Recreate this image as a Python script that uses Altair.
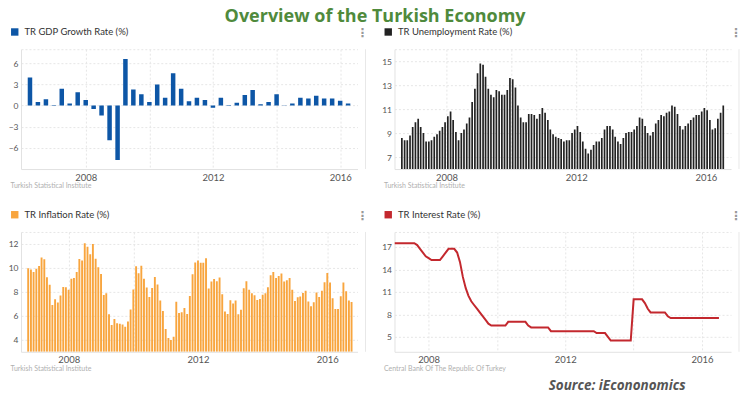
import altair as alt
import pandas as pd

TITLE = "Overview of the Turkish Economy"
SOURCE = "Source: iEcononomics"

# ---- GDP growth, quarterly (Q2 2006 .. Q2 2016)
gdp_name = "TR GDP Growth Rate (%)"
gdp_source = "Turkish Statistical Institute"
gdp_values = [4.0, 0.5, 0.9, 0.1, 2.4, 0.3, 1.9, 0.8, -0.5, -1.4,
              -4.9, -7.7, 6.6, 2.3, 1.6, 0.5, 3.0, 1.1, 4.6, 2.4,
              0.6, 1.1, 0.8, -0.3, 1.1, 0.1, 0.4, 1.5, 2.2, 0.2,
              0.5, 1.6, 0.05, 0.3, 1.1, 1.0, 1.4, 1.0, 1.0, 0.7,
              0.3]
gdp_ticks = [-6, -3, 0, 3, 6]

# ---- Unemployment, monthly (Aug 2006 .. Jul 2016)
unemp_name = "TR Unemployment Rate (%)"
unemp_source = "Turkish Statistical Institute"
unemp_values = [8.6, 8.4, 8.4, 8.8, 9.5, 9.9, 10.2, 9.5, 9.0, 8.3,
                8.3, 8.4, 8.7, 8.9, 9.2, 9.5, 9.9, 10.4, 10.8, 10.1,
                9.1, 8.4, 9.0, 9.3, 9.8, 10.3, 11.6, 12.7, 14.0, 14.8,
                14.7, 13.7, 12.7, 12.2, 12.0, 12.6, 12.5, 12.2, 12.2, 12.6,
                13.6, 13.5, 12.8, 11.3, 10.3, 9.9, 9.9, 10.6, 10.6, 10.5,
                10.2, 10.6, 11.1, 10.7, 10.1, 9.3, 8.9, 8.7, 8.6, 8.5,
                8.3, 8.4, 8.4, 9.0, 9.3, 9.6, 9.1, 8.3, 7.7, 7.3,
                7.6, 8.0, 8.3, 8.3, 8.6, 9.3, 9.6, 9.6, 9.3, 8.7,
                8.3, 8.1, 8.6, 9.0, 9.1, 9.1, 9.3, 9.6, 10.3, 10.2,
                9.6, 9.0, 8.8, 9.1, 9.8, 10.1, 10.5, 10.4, 10.7, 10.8,
                11.3, 11.2, 10.6, 9.6, 9.3, 9.6, 9.8, 10.1, 10.3, 10.5,
                10.5, 10.8, 11.1, 10.9, 10.1, 9.3, 9.4, 10.2, 10.7, 11.3]
unemp_ticks = [7, 9, 11, 13, 15]

# ---- Inflation, monthly (Oct 2006 .. Oct 2016)
infl_name = "TR Inflation Rate (%)"
infl_source = "Turkish Statistical Institute"
infl_values = [9.98, 9.86, 9.65,
               9.93, 10.16, 10.86, 10.72, 9.23, 8.60, 6.90, 7.39, 7.12, 7.70, 8.40, 8.39,
               8.17, 9.10, 9.15, 9.66, 10.74, 10.61, 12.06, 11.77, 11.13, 11.99, 10.76, 10.06,
               9.50, 7.73, 7.89, 6.13, 5.24, 5.73, 5.39, 5.33, 5.27, 5.08, 5.53, 6.53,
               8.19, 10.13, 9.56, 10.19, 9.10, 8.37, 7.58, 8.33, 9.24, 8.62, 7.29, 6.40,
               4.90, 4.16, 3.99, 4.26, 7.17, 6.24, 6.31, 6.65, 6.15, 7.66, 9.48, 10.45,
               10.61, 10.43, 10.43, 10.80, 8.28, 8.87, 9.07, 8.88, 9.19, 7.80, 6.37, 6.16,
               7.31, 7.03, 7.29, 6.13, 6.51, 8.30, 8.88, 8.17, 7.88, 7.71, 7.32, 7.40,
               7.75, 7.89, 8.39, 9.38, 9.66, 9.16, 9.32, 9.54, 8.86, 8.96, 9.15, 8.17,
               7.24, 7.55, 7.61, 7.91, 8.09, 7.20, 6.81, 7.14, 7.95, 7.58, 8.10, 8.81,
               9.58, 8.78, 7.46, 6.57, 6.58, 7.64, 8.79, 8.05, 7.28, 7.16]
infl_ticks = [4, 6, 8, 10, 12]

# ---- Interest rate, monthly (Jan 2007 .. Jul 2016)
rate_name = "TR Interest Rate (%)"
rate_source = "Central Bank Of The Republic Of Turkey"
rate_values = [17.5, 17.5, 17.5, 17.5, 17.5, 17.5, 17.5, 17.5, 17.25, 16.75, 16.25, 15.75,
               15.5, 15.25, 15.25, 15.25, 15.25, 15.75, 16.25, 16.75, 16.75, 16.75, 16.25, 15.0,
               13.0, 11.5, 10.5, 9.75, 9.25, 8.75, 8.25, 7.75, 7.25, 6.75, 6.5, 6.5,
               6.5, 6.5, 6.5, 6.5, 7.0, 7.0, 7.0, 7.0, 7.0, 7.0, 7.0, 6.5,
               6.25, 6.25, 6.25, 6.25, 6.25, 6.25, 6.25, 5.75, 5.75, 5.75, 5.75, 5.75,
               5.75, 5.75, 5.75, 5.75, 5.75, 5.75, 5.75, 5.75, 5.75, 5.75, 5.75, 5.5,
               5.5, 5.5, 5.5, 5.0, 4.5, 4.5, 4.5, 4.5, 4.5, 4.5, 4.5, 4.5,
               10.0, 10.0, 10.0, 10.0, 9.5, 8.75, 8.25, 8.25, 8.25, 8.25, 8.25, 8.25,
               7.75, 7.5, 7.5, 7.5, 7.5, 7.5, 7.5, 7.5, 7.5, 7.5, 7.5, 7.5,
               7.5, 7.5, 7.5, 7.5, 7.5, 7.5, 7.5]
rate_ticks = [5, 8, 11, 14, 17]

grid_years = [2008, 2010, 2012, 2014, 2016]

W, H = 337, 120
LABEL_FONT = "Lato"


def frame(name, dates, values):
    return pd.DataFrame({"date": dates, "value": values, "series": name})


gdp_df = frame(gdp_name, pd.date_range("2006-04-01", periods=len(gdp_values), freq="QS"), gdp_values)
unemp_df = frame(unemp_name, pd.date_range("2006-08-01", periods=len(unemp_values), freq="MS") + pd.Timedelta(days=14), unemp_values)
infl_df = frame(infl_name, pd.date_range("2006-10-01", periods=len(infl_values), freq="MS"), infl_values)
rate_df = frame(rate_name, pd.date_range("2007-01-01", periods=len(rate_values), freq="MS"), rate_values)


def dt(y, m, d):
    return alt.DateTime(year=y, month=m, date=d)


def panel(df, name, color, ydomain, yticks, xdomain, source, kind, bar_size=2, extra=None):
    xaxis = alt.Axis(
        values=[dt(y, 1, 1) for y in grid_years],
        format="%Y",
        labelExpr="year(datum.value) % 4 == 0 ? datum.label : ''",
        title=source, titleX=-11, titleY=16.5, titleAlign="left", titleBaseline="middle",
        grid=True,
    )
    top = ydomain[1]
    yaxis = alt.Axis(
        values=yticks + [top],
        labelExpr=f"datum.value == {top} ? '' : datum.label",
        title=None, grid=True,
    )
    legend = alt.Legend(
        orient="none", legendX=-11, legendY=-22, title=None,
        symbolType="square", symbolSize=55, symbolStrokeWidth=0,
        symbolFillColor=color, symbolStrokeColor=color,
        labelFont=LABEL_FONT, labelFontSize=9.5, labelColor="#333", labelOffset=5,
    )
    x = alt.X("date:T", scale=alt.Scale(domain=[dt(*xdomain[0]), dt(*xdomain[1])]), axis=xaxis)
    y = alt.Y("value:Q", scale=alt.Scale(domain=ydomain, zero=False, nice=False), axis=yaxis)
    c = alt.Color("series:N", scale=alt.Scale(domain=[name], range=[color]), legend=legend)
    base_val = 0 if ydomain[0] < 0 else ydomain[0]
    if kind == "bar":
        main = alt.Chart(df).mark_bar(size=bar_size, clip=True).encode(
            x=x, y=y, y2=alt.datum(base_val), color=c)
    else:
        main = alt.Chart(df).mark_line(strokeWidth=2, clip=True).encode(x=x, y=y, color=c)

    sep = alt.Chart(pd.DataFrame({"a": [0]})).mark_rule(color="#e8e8e8").encode(
        x=alt.value(W + 8), y=alt.value(0), y2=alt.value(H))
    dots = alt.Chart(pd.DataFrame({"t": ["⋮"]})).mark_text(
        font="DejaVu Sans", fontSize=12, color="#999", fontWeight="bold").encode(
        text="t:N", x=alt.value(W + 5), y=alt.value(-16))
    layers = [main, sep, dots]
    if extra is not None:
        layers.append(extra)
    return alt.layer(*layers).properties(width=W, height=H)


src = alt.Chart(pd.DataFrame({"t": [SOURCE]})).mark_text(
    font="Open Sans", fontSize=13.5, fontWeight="bold", fontStyle="italic", color="#555", align="center").encode(
    text="t:N", x=alt.value(223), y=alt.value(H + 34))

p1 = panel(gdp_df, gdp_name, "#0d56a6", [-9, 8], gdp_ticks,
           [(2006, 2, 14), (2016, 5, 22)], gdp_source, "bar", bar_size=4.5)
p2 = panel(unemp_df, unemp_name, "#222222", [6, 16], unemp_ticks,
           [(2006, 7, 19), (2016, 8, 15)], unemp_source, "bar", bar_size=1.7)
p3 = panel(infl_df, infl_name, "#f8a53e", [3, 13], infl_ticks,
           [(2006, 9, 6), (2016, 10, 12)], infl_source, "bar", bar_size=1.9)
p4 = panel(rate_df, rate_name, "#c3282e", [3, 19], rate_ticks,
           [(2007, 1, 1), (2016, 11, 7)], rate_source, "line", extra=src)

chart = alt.concat(
    p1, p2, p3, p4, columns=2,
    spacing={"row": 63, "column": 37}, bounds="flush",
).resolve_scale(color="independent", x="independent", y="independent").properties(
    padding=0,
    title=alt.TitleParams(TITLE, font="Open Sans", fontSize=18, fontWeight="bold",
                          color="#4f8a3c", anchor="middle", offset=1)
).configure_view(stroke=None).configure_axis(
    labelFont=LABEL_FONT, labelColor="#555", ticks=False, labelPadding=3,
    domainColor="#e2e2e2", gridColor="#e6e6e6", gridDash=[2, 2],
    titleFont=LABEL_FONT, titleFontSize=7, titleColor="#b0b0b0", titleFontWeight="normal",
).configure_axisX(labelFontSize=9.5, labelPadding=3).configure_axisY(labelFontSize=8.5)

chart.save("out.html", embed_options={"renderer": "svg", "actions": False})
